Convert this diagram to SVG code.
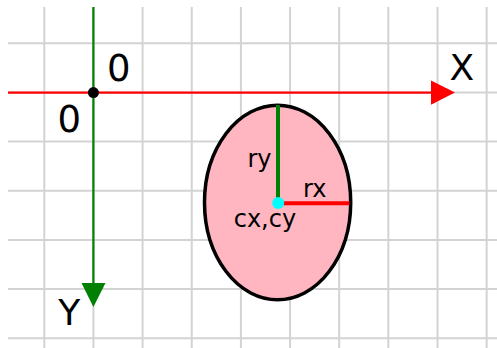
<svg xmlns="http://www.w3.org/2000/svg" width="497" height="348" viewBox="0 0 497 348">
<style>
.grid line{stroke:#d3d3d3;stroke-width:2}
text{font-family:"DejaVu Sans","Liberation Sans",sans-serif;fill:#000}
.ax{font-size:36px}
.zero{font-size:37px}
.lbl{font-size:24px}
</style>
<rect width="497" height="348" fill="#fff"/>
<g id="grid" class="grid">
<line x1="44.3" y1="7" x2="44.3" y2="348"/>
<line x1="93.45" y1="7" x2="93.45" y2="348"/>
<line x1="142.6" y1="7" x2="142.6" y2="348"/>
<line x1="191.75" y1="7" x2="191.75" y2="348"/>
<line x1="240.9" y1="7" x2="240.9" y2="348"/>
<line x1="290.05" y1="7" x2="290.05" y2="348"/>
<line x1="339.2" y1="7" x2="339.2" y2="348"/>
<line x1="388.35" y1="7" x2="388.35" y2="348"/>
<line x1="437.5" y1="7" x2="437.5" y2="348"/>
<line x1="486.65" y1="7" x2="486.65" y2="348"/>
<line x1="8" y1="43.3" x2="497" y2="43.3"/>
<line x1="8" y1="92.45" x2="497" y2="92.45"/>
<line x1="8" y1="141.6" x2="497" y2="141.6"/>
<line x1="8" y1="190.75" x2="497" y2="190.75"/>
<line x1="8" y1="239.9" x2="497" y2="239.9"/>
<line x1="8" y1="289.05" x2="497" y2="289.05"/>
<line x1="8" y1="338.2" x2="497" y2="338.2"/>
</g>
<g id="ellipse">
<ellipse cx="277.6" cy="202.5" rx="73.1" ry="97.3" fill="#ffb6c1" stroke="#000" stroke-width="3.5"/>
</g>
<g id="connectors">
<line id="x-axis" x1="8" y1="92.6" x2="433" y2="92.6" stroke="#ff0000" stroke-width="2.2"/>
<polygon points="431,80.5 455,92.6 431,104.7" fill="#ff0000"/>
<line id="y-axis" x1="93.4" y1="7" x2="93.4" y2="285" stroke="#008000" stroke-width="2.2"/>
<polygon points="81.5,283 93.4,307 105.5,283" fill="#008000"/>
<line id="ry-line" x1="278" y1="105" x2="278" y2="203" stroke="#008000" stroke-width="4"/>
<line id="rx-line" x1="278" y1="203.3" x2="349.5" y2="203.3" stroke="#ff0000" stroke-width="4"/>
</g>
<g id="origin">
<circle cx="93.4" cy="92.6" r="5.5" fill="#000"/>
</g>
<g id="center">
<circle cx="278.2" cy="202.9" r="6" fill="#00ffff"/>
</g>
<g id="labels">
<text class="zero" x="106.9" y="80.5">0</text>
<text class="zero" x="57.6" y="131.8">0</text>
<text class="ax" x="449.5" y="80">X</text>
<text class="ax" x="58.3" y="325">Y</text>
<text class="lbl" x="247.4" y="166.5">ry</text>
<text class="lbl" x="303.1" y="196.7">rx</text>
<text class="lbl" x="233.7" y="226.7">cx,cy</text>
</g>
</svg>
